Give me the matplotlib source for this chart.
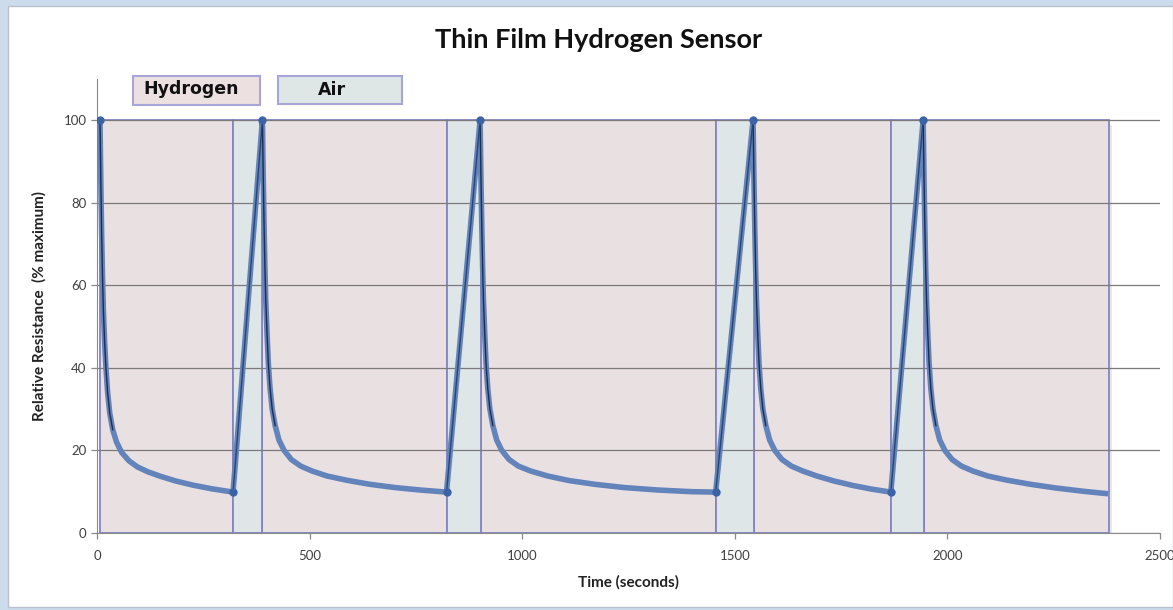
#Thin film hydrogen sensor response chart
import numpy as np
import matplotlib
matplotlib.use("Agg")
import matplotlib.pyplot as plt
from matplotlib.patches import Rectangle

#data (time in s, resistance in % of maximum)
time_s = [7, 9, 11, 13, 15, 18, 21, 25, 30, 37, 46, 58, 75, 95, 120, 150, 185, 225, 270, 320,
          389, 391, 393, 395, 397, 400, 403, 407, 412, 419, 428, 440, 457, 479, 506, 541, 586, 641, 701, 761, 822,
          901, 903, 905, 907, 909, 912, 915, 919, 924, 931, 940, 952, 969, 991, 1020, 1060, 1110, 1170, 1240, 1320, 1400, 1455,
          1543, 1545, 1547, 1549, 1551, 1554, 1557, 1561, 1566, 1573, 1582, 1594, 1611, 1633, 1660, 1693, 1733, 1778, 1823, 1867,
          1943, 1945, 1947, 1949, 1951, 1954, 1957, 1961, 1966, 1973, 1982, 1994, 2011, 2033, 2060, 2095, 2140, 2195, 2255, 2320, 2378]
resistance_pct = [100, 85, 72, 62, 54, 46, 40, 34, 29, 25, 22, 19.5, 17.5, 16, 14.8, 13.7, 12.6, 11.6, 10.7, 9.9,
                  100, 86, 74, 64, 56, 48, 41, 35, 30, 26, 22.5, 20, 17.8, 16.2, 15, 13.8, 12.8, 11.8, 11, 10.4, 9.9,
                  100, 86, 74, 64, 56, 48, 41, 35, 30, 26, 22.5, 20, 17.8, 16.2, 15, 13.8, 12.7, 11.8, 11.0, 10.4, 10.0, 9.9,
                  100, 86, 74, 64, 56, 48, 41, 35, 30, 26, 22.5, 20, 17.8, 16.2, 15, 13.8, 12.6, 11.5, 10.6, 9.9,
                  100, 86, 74, 64, 56, 48, 41, 35, 30, 26, 22.5, 20, 17.8, 16.2, 15, 13.8, 12.8, 11.8, 10.9, 10.1, 9.5]

#exposure phases (start, end) in seconds
hydrogen_start = [7, 389, 903, 1545, 1945]
hydrogen_end = [320, 822, 1455, 1867, 2380]
air_start = [320, 822, 1455, 1867]
air_end = [389, 903, 1545, 1945]

xticks = [0, 500, 1000, 1500, 2000, 2500]
yticks = [0, 20, 40, 60, 80, 100]

t = np.array(time_s)
r = np.array(resistance_pct)

fig = plt.figure(figsize=(11.73, 6.10), dpi=100)
fig.patch.set_facecolor('#cddcec')
fig.add_artist(Rectangle((8/1173, 3/610), 1 - 8/1173, 1 - 9/610, transform=fig.transFigure,
                         facecolor='white', edgecolor='#b9c2cc', lw=1, zorder=-1))

ax = fig.add_axes([97/1173, (610-533)/610, 1063/1173, (533-78.7)/610])
ax.set_facecolor('white')

#soft shadow under the phase boxes
ax.add_patch(Rectangle((hydrogen_start[0] + 6, -1.2), hydrogen_end[-1] - hydrogen_start[0], 100,
                       facecolor='#d9d9d9', edgecolor='none', alpha=0.6, zorder=0.8))

#shaded phases
for s, e in zip(hydrogen_start, hydrogen_end):
    ax.add_patch(Rectangle((s, 0), e - s, 100, facecolor='#e9e0e1', edgecolor='#8585c4', lw=1.3, zorder=1))
for s, e in zip(air_start, air_end):
    ax.add_patch(Rectangle((s, 0), e - s, 100, facecolor='#dfe6e8', edgecolor='#8585c4', lw=1.3, zorder=1))

#curve
ax.plot(t, r, color='#6383bb', lw=4, solid_capstyle='butt', zorder=3)
steep = np.where(r > 24, r, np.nan)
ax.plot(t, steep, color='#1f2c4c', lw=1.0, zorder=4)
#rise segments between minima and the next peak
for i in range(1, len(r)):
    if r[i] > r[i-1]:
        ax.plot(t[i-1:i+1], r[i-1:i+1], color='#2c4470', lw=1.0, zorder=4)
ext = [i for i in range(len(r)) if r[i] == 100 or (i + 1 < len(r) and r[i+1] > r[i])]
ax.plot(t[ext], r[ext], 'o', color='#3b63a6', ms=5, zorder=5)

ax.set_xlim(0, 2500)
ax.set_ylim(0, 110)
ax.set_xticks(xticks)
ax.set_yticks(yticks)
ax.set_axisbelow('line')
ax.yaxis.grid(True, color='#7a7a7a', lw=0.9)
for side in ['top', 'right']:
    ax.spines[side].set_visible(False)
for side in ['left', 'bottom']:
    ax.spines[side].set_color('#8a8a8a')
ax.tick_params(colors='#8a8a8a', labelcolor='#404040', labelsize=9.5, length=4, width=0.9)
for lab in ax.get_xticklabels() + ax.get_yticklabels():
    lab.set_family('Lato')
ax.tick_params(axis='x', pad=8)

ax.set_xlabel('Time (seconds)', family='Lato', fontweight='bold', fontsize=11, color='#222222', labelpad=10)
ax.set_ylabel('Relative Resistance  (% maximum)', family='Lato', fontweight='bold', fontsize=11,
              color='#222222', labelpad=12)

fig.text(599/1173, 1 - 40/610, 'Thin Film Hydrogen Sensor', family='Lato', fontweight='bold',
         fontsize=19.5, ha='center', va='center', color='#111111')

#legend boxes
fig.add_artist(Rectangle((133/1173, 1 - 105/610), 127/1173, 29/610, transform=fig.transFigure,
                         facecolor='#ece0e1', edgecolor='#a8a6d8', lw=1.5))
fig.add_artist(Rectangle((278/1173, 1 - 104/610), 124/1173, 28/610, transform=fig.transFigure,
                         facecolor='#dfe6e6', edgecolor='#a8a6d8', lw=1.5))
fig.text(191/1173, 1 - 89/610, 'Hydrogen', family='DejaVu Sans', fontweight='bold', fontsize=12.5,
         ha='center', va='center', color='#111111')
fig.text(332/1173, 1 - 90/610, 'Air', family='DejaVu Sans', fontweight='bold', fontsize=12.5,
         ha='center', va='center', color='#111111')

fig.savefig('out.png', dpi=100, facecolor=fig.get_facecolor())
